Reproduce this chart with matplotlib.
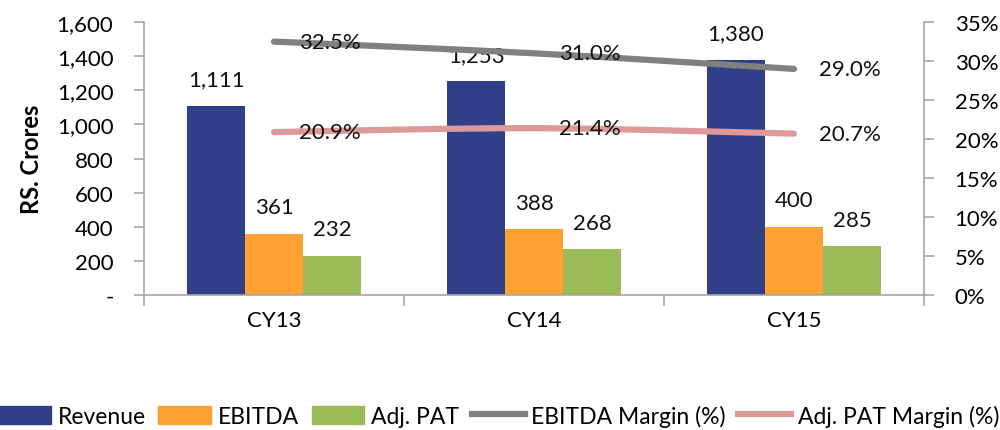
import matplotlib
matplotlib.use("Agg")
import matplotlib.pyplot as plt
from matplotlib.path import Path
from matplotlib.patches import PathPatch, Patch
from matplotlib.lines import Line2D
from matplotlib.ticker import FuncFormatter, FixedLocator, NullFormatter
import numpy as np

plt.rcParams['font.family'] = ['Lato', 'DejaVu Sans']

categories = ["CY13", "CY14", "CY15"]
revenue = [1111, 1253, 1380]
ebitda = [361, 388, 400]
adj_pat = [232, 268, 285]
ebitda_margin = [32.5, 31.0, 29.0]
pat_margin = [20.9, 21.4, 20.7]

c_rev = "#303F87"
c_ebitda = "#FFA033"
c_pat = "#9BBB59"
c_em = "#808080"
c_pm = "#DE9A9A"
c_axis = "#A6A6A6"
fs = 16

fig = plt.figure(figsize=(10, 4.31), dpi=100)
ax = fig.add_axes([0.144, 0.313, 0.78, 0.6334])
ax2 = ax.twinx()

x = np.arange(len(categories))
w = 0.223
ax.bar(x - w, revenue, w, color=c_rev, label="Revenue", zorder=2)
ax.bar(x, ebitda, w, color=c_ebitda, label="EBITDA", zorder=2)
ax.bar(x + w, adj_pat, w, color=c_pat, label="Adj. PAT", zorder=2)

for xs, vals in ((x - w, revenue), (x, ebitda), (x + w, adj_pat)):
    for xi, v in zip(xs, vals):
        ax.annotate(f"{v:,}", (xi, v), xytext=(0, 19), textcoords="offset points",
                    ha="center", va="center", fontsize=fs, color="#111111")

ax.set_xlim(-0.5, len(categories) - 0.5)
ax.set_ylim(0, 1600)
ax.set_yticks(range(0, 1601, 200))
ax.yaxis.set_major_formatter(FuncFormatter(lambda v, p: "-" if v == 0 else f"{int(v):,}"))
ax.set_ylabel("RS. Crores", fontsize=17, fontweight="bold", labelpad=10)

ax.set_xticks(x)
ax.set_xticklabels(categories, fontsize=fs)
ax.tick_params(axis="x", which="major", length=0, pad=11)
ax.xaxis.set_minor_locator(FixedLocator(np.arange(-0.5, len(categories), 1.0)))
ax.xaxis.set_minor_formatter(NullFormatter())
ax.tick_params(axis="x", which="minor", length=8, color=c_axis, width=1.2)
ax.tick_params(axis="y", labelsize=fs, length=7, color=c_axis, width=1.2, pad=15)

ax2.set_ylim(0, 35)
ax2.set_yticks(range(0, 36, 5))
ax2.yaxis.set_major_formatter(FuncFormatter(lambda v, p: f"{int(v)}%"))
ax2.tick_params(axis="y", labelsize=fs, length=7, color=c_axis, width=1.2, pad=15)

for a in (ax, ax2):
    a.spines["top"].set_visible(False)
    for s in ("left", "right", "bottom"):
        a.spines[s].set_color(c_axis)
        a.spines[s].set_linewidth(1.2)
ax.spines["right"].set_visible(False)
ax2.spines["left"].set_visible(False)
ax2.spines["bottom"].set_visible(False)


def smooth_path(xs, ys):
    # Catmull-Rom style cubic Bezier through the data points
    xs = np.asarray(xs, float)
    ys = np.asarray(ys, float)
    pts = np.column_stack([xs, ys])
    n = len(pts)
    verts = [pts[0]]
    codes = [Path.MOVETO]
    for i in range(n - 1):
        p0 = pts[i - 1] if i > 0 else pts[i]
        p1 = pts[i]
        p2 = pts[i + 1]
        p3 = pts[i + 2] if i + 2 < n else pts[i + 1]
        c1 = p1 + (p2 - p0) / 6.0
        c2 = p2 - (p3 - p1) / 6.0
        verts += [c1, c2, p2]
        codes += [Path.CURVE4] * 3
    return Path(verts, codes)


for vals, col in ((ebitda_margin, c_em), (pat_margin, c_pm)):
    patch = PathPatch(smooth_path(x, vals), facecolor="none", edgecolor=col,
                      lw=4.5, capstyle="round", zorder=3)
    ax2.add_patch(patch)
    for xi, v in zip(x, vals):
        ax2.annotate(f"{v:.1f}%", (xi, v), xytext=(18, 0), textcoords="offset points",
                     ha="left", va="center", fontsize=fs, color="#111111", zorder=4)

handles = [
    Patch(color=c_rev, label="Revenue"),
    Patch(color=c_ebitda, label="EBITDA"),
    Patch(color=c_pat, label="Adj. PAT"),
    Line2D([], [], color=c_em, lw=4.5, label="EBITDA Margin (%)"),
    Line2D([], [], color=c_pm, lw=4.5, label="Adj. PAT Margin (%)"),
]
fig.legend(handles=handles, loc="center left", bbox_to_anchor=(-0.002, 0.033),
           ncol=5, frameon=False, fontsize=16.5, handlelength=2.3, handleheight=0.8,
           handletextpad=0.3, columnspacing=0.55, borderaxespad=0, borderpad=0)

fig.savefig("out.png", dpi=100)
